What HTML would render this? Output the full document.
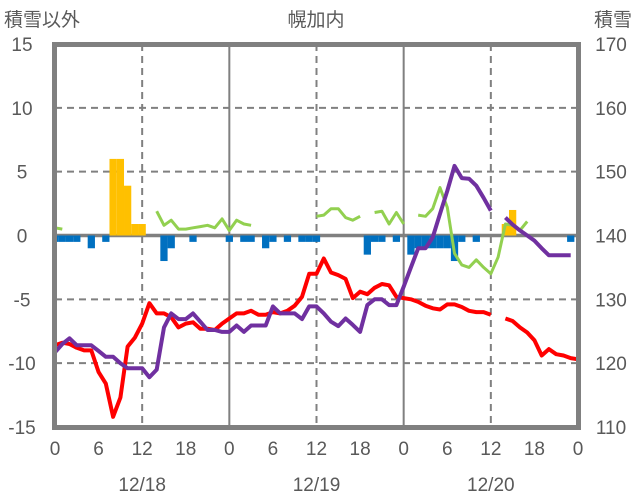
<!DOCTYPE html>
<html><head><meta charset="utf-8"><style>
html,body{margin:0;padding:0;background:#fff;}
svg{display:block;font-family:"Liberation Sans","Noto Sans CJK JP",sans-serif;}
</style></head><body>
<svg id="chart" width="636" height="501" viewBox="0 0 636 501" xmlns="http://www.w3.org/2000/svg">
<g id="grid"></g>
<g id="bars"></g>
<g id="lines"></g>
<rect x="54.5" y="44.5" width="524" height="383" fill="none" stroke="#808080" stroke-width="5"/>
<g id="labels" fill="#595959" font-size="19"></g>
<text x="4" y="26" font-size="19" fill="#595959">積雪以外</text>
<text x="316" y="26" font-size="19" fill="#595959" text-anchor="middle">幌加内</text>
<text x="632" y="26" font-size="19" fill="#595959" text-anchor="end">積雪</text>
</svg>
<script>
const hours = Array.from({length:73},(_,i)=>i);
const leftTicks = [15,10,5,0,-5,-10,-15];
const rightTicks = [170,160,150,140,130,120,110];
const xTickLabels = ["0","6","12","18","0","6","12","18","0","6","12","18","0"];
const dateLabels = ["12/18","12/19","12/20"];
const tempRed = [-8.6,-8.4,-8.5,-8.8,-9.0,-9.0,-10.7,-11.6,-14.2,-12.7,-8.7,-8.0,-6.9,-5.3,-6.1,-6.1,-6.4,-7.2,-6.9,-6.8,-7.3,-7.3,-7.4,-6.9,-6.5,-6.1,-6.1,-5.9,-6.2,-6.2,-6.0,-6.1,-5.9,-5.5,-4.8,-3.0,-3.0,-1.8,-2.9,-3.1,-3.4,-4.9,-4.4,-4.6,-4.1,-3.8,-3.9,-4.8,-4.9,-5.0,-5.2,-5.5,-5.7,-5.8,-5.4,-5.4,-5.6,-5.9,-6.0,-6.0,-6.2,null,-6.5,-6.7,-7.2,-7.6,-8.2,-9.4,-8.9,-9.3,-9.4,-9.6,-9.7];
const snowDepth = [121.7,123,123.9,122.8,122.8,122.8,121.9,121.0,121.0,120,119.2,119.2,119.2,117.8,119,125.6,127.8,126.9,126.9,127.8,126.5,125.2,125.2,124.9,124.9,125.9,124.9,125.9,125.9,125.9,128.9,127.8,127.8,127.8,126.9,128.9,128.9,127.8,126.5,125.8,127.0,126,124.9,129.1,130,130,129.1,129.1,132,135,138,138,139.7,143.4,147,150.9,149,148.9,147.8,145.9,143.9,null,142.8,141.7,140.8,140,139.2,138,136.9,136.9,136.9,136.9,null];
const windGreen = [0.6,0.5,null,null,null,null,null,null,null,null,null,null,null,null,1.9,0.8,1.2,0.5,0.5,0.6,0.7,0.8,0.6,1.3,0.4,1.2,0.9,0.8,null,null,null,null,null,null,null,null,1.5,1.6,2.1,2.1,1.4,1.2,1.5,null,1.8,1.9,0.9,1.8,0.9,null,1.6,1.5,2.1,3.75,2.2,-1.4,-2.3,-2.5,-1.9,-2.5,-3.0,-1.7,0.9,0.8,0.4,1.1,null,null,null,null,null,null,null];
const snowfallYellow = {8:6,9:6,10:3.9,11:0.9,12:0.9,62:0.9,63:2.0};
const decreaseBlue = {0:-0.5,1:-0.5,2:-0.5,3:-0.5,5:-1.0,7:-0.5,15:-2.0,16:-1.0,19:-0.5,24:-0.5,26:-0.5,27:-0.5,29:-1.0,30:-0.5,32:-0.5,34:-0.5,35:-0.5,36:-0.5,43:-1.5,44:-0.5,45:-0.5,47:-0.5,49:-1.5,50:-1.0,51:-1.0,52:-1.0,53:-1.0,54:-1.0,55:-2.0,56:-0.5,58:-0.5,71:-0.5};

const X0=55,X1=578,YT=44,YB=427;
const x = h => X0 + h*(X1-X0)/72;
const yL = v => YT + (15-v)*(YB-YT)/30;
const yR = v => YT + (170-v)*(YB-YT)/60;
const NS="http://www.w3.org/2000/svg";
function mk(tag, attrs, parent){const e=document.createElementNS(NS,tag);for(const k in attrs)e.setAttribute(k,attrs[k]);parent.appendChild(e);return e;}
const grid=document.getElementById('grid'), bars=document.getElementById('bars'), lines=document.getElementById('lines'), labels=document.getElementById('labels');

[10,5,-5,-10].forEach(v=>{const l=mk('line',{x1:X0,x2:X1,y1:yL(v),y2:yL(v),stroke:'#808080','stroke-width':2,'stroke-dasharray':'7,5'},grid);

});
[12,36,60].forEach(h=>{const l=mk('line',{x1:x(h),x2:x(h),y1:YT,y2:YB,stroke:'#808080','stroke-width':2,'stroke-dasharray':'7,5'},grid);

});
[24,48].forEach(h=>{const l=mk('line',{x1:x(h),x2:x(h),y1:YT,y2:YB,stroke:'#808080','stroke-width':2},grid);

});

const bw=(X1-X0)/72;
for(const h in snowfallYellow){const v=snowfallYellow[h];const r=mk('rect',{x:x(+h)-bw/2,y:yL(v),width:bw,height:yL(0)-yL(v),fill:'#FFC000'},bars);

}
for(const h in decreaseBlue){const v=decreaseBlue[h];const r=mk('rect',{x:Math.max(X0,x(+h)-bw/2),y:yL(0),width:bw-(x(+h)-bw/2<X0?X0-(x(+h)-bw/2):0),height:yL(v)-yL(0),fill:'#0070C0'},bars);

}
const z=mk('line',{x1:X0,x2:X1,y1:yL(0),y2:yL(0),stroke:'#808080','stroke-width':3.5},grid);



function path(arr, yf){let d='',pen=false;arr.forEach((v,i)=>{if(v===null){pen=false;return;}d+=(pen?'L':'M')+x(i).toFixed(1)+','+yf(v).toFixed(1);pen=true;});return d;}
const g=mk('path',{d:path(windGreen,yL),fill:'none',stroke:'#92D050','stroke-width':3,'stroke-linejoin':'round'},lines);


const r=mk('path',{d:path(tempRed,yL),fill:'none',stroke:'#FF0000','stroke-width':4,'stroke-linejoin':'round'},lines);


const p=mk('path',{d:path(snowDepth,yR),fill:'none',stroke:'#7030A0','stroke-width':4,'stroke-linejoin':'round'},lines);



leftTicks.forEach(v=>{const t=mk('text',{x:22,y:yL(v)+7,'text-anchor':'middle'},labels);t.textContent=v;

});
rightTicks.forEach(v=>{const t=mk('text',{x:611,y:yR(v)+7,'text-anchor':'middle'},labels);t.textContent=v;

});
xTickLabels.forEach((s,i)=>{const t=mk('text',{x:x(i*6),y:455,'text-anchor':'middle'},labels);t.textContent=s;

});
dateLabels.forEach((s,i)=>{const t=mk('text',{x:x(12+24*i),y:491,'text-anchor':'middle'},labels);t.textContent=s;

});
</script>
</body></html>
